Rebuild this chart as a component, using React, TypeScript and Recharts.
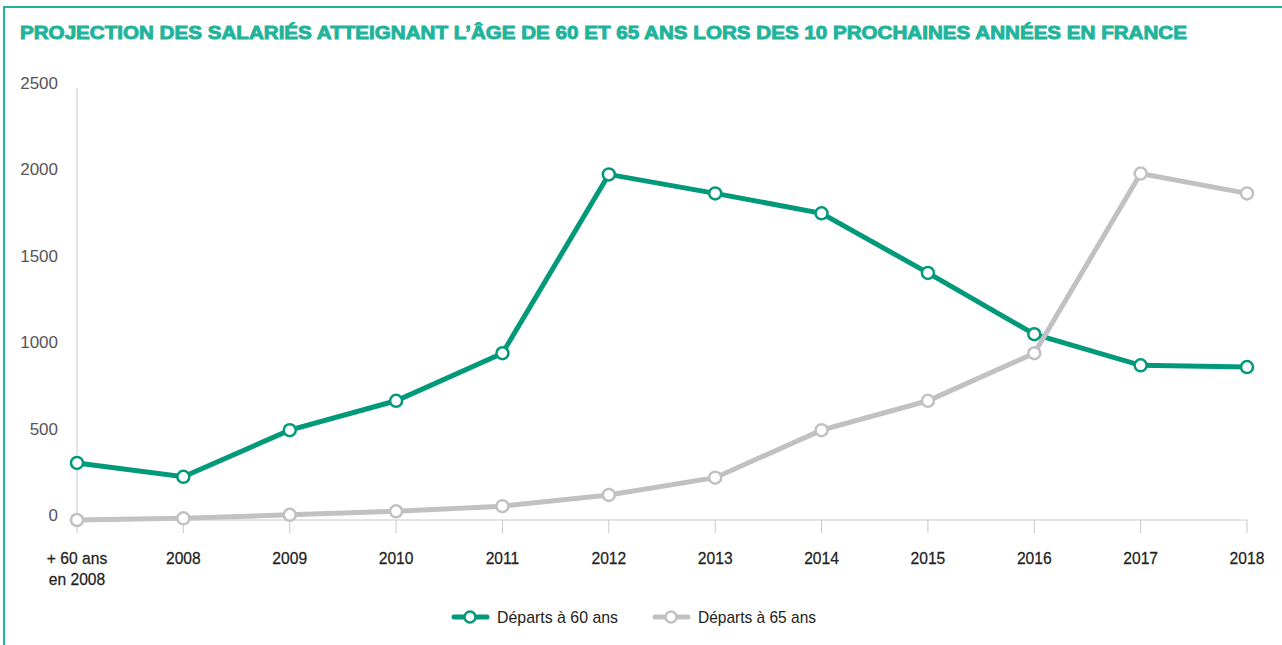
import React from "react";
import { LineChart, Line, XAxis, YAxis } from "recharts";

const categories = ["+ 60 ans|en 2008", "2008", "2009", "2010", "2011", "2012", "2013", "2014", "2015", "2016", "2017", "2018"];
const departs60 = [330, 250, 520, 690, 965, 2000, 1890, 1775, 1430, 1075, 895, 885];
const departs65 = [0, 10, 30, 50, 80, 145, 245, 520, 690, 965, 2005, 1890];
const yTicks = [0, 500, 1000, 1500, 2000, 2500];
const seriesNames = ["Départs à 60 ans", "Départs à 65 ans"];

const GREEN = "#00997a";
const GREY = "#c1c1c4";
const TITLE = "#22b39b";
const FONT = '"Liberation Sans", Arial, sans-serif';

const data = categories.map((label, i) => ({ label, d60: departs60[i], d65: departs65[i] }));

function XTick(props: any) {
  const { x, y, payload } = props;
  const lines = String(payload.value).split("|");
  return (
    <g transform={`translate(${x},${y}) scale(0.92,1)`}>
      {lines.map((l: string, i: number) => (
        <text key={i} x={0} y={29 + i * 21} textAnchor="middle" fill="#222" fontSize={17} fontFamily={FONT} stroke="#222" strokeWidth={0.25}>
          {l}
        </text>
      ))}
    </g>
  );
}

function YTick(props: any) {
  const { x, y, payload } = props;
  return (
    <text x={x} y={y + 1} textAnchor="end" fill="#555" fontSize={17} fontFamily={FONT}>
      {payload.value}
    </text>
  );
}

function LegendItem({ x, color, label, w }: { x: number; color: string; label: string; w: number }) {
  return (
    <g>
      <line x1={x + 1} y1={617} x2={x + 34} y2={617} stroke={color} strokeWidth={5} strokeLinecap="round" />
      <circle cx={x + 17} cy={617} r={5.5} fill="#fff" stroke={color} strokeWidth={2.5} />
      <text x={x + 44} y={623} fill="#222" fontSize={17} fontFamily={FONT} textLength={w} lengthAdjust="spacingAndGlyphs">
        {label}
      </text>
    </g>
  );
}

export default function App() {
  const dot = (color: string) => ({ r: 6, fill: "#fff", stroke: color, strokeWidth: 2.5 });
  return (
    <div style={{ position: "absolute", left: 0, top: 0, width: 1282, height: 645, background: "#fff", overflow: "hidden" }}>
      <div style={{ position: "absolute", left: 3, top: 6, width: 1300, height: 700, border: `2px solid ${TITLE}` }} />
      <svg width={1282} height={60} style={{ position: "absolute", left: 0, top: 0 }}>
        <text x={20} y={39} fill={TITLE} stroke={TITLE} strokeWidth={0.9} fontSize={18} fontWeight="bold" fontFamily={FONT} textLength={1167} lengthAdjust="spacingAndGlyphs">
          PROJECTION DES SALARIÉS ATTEIGNANT L’ÂGE DE 60 ET 65 ANS LORS DES 10 PROCHAINES ANNÉES EN FRANCE
        </text>
      </svg>
      <div style={{ position: "absolute", left: 0, top: 0 }}>
        <LineChart width={1282} height={600} data={data} margin={{ top: 88, right: 35, bottom: 40, left: 17 }}>
          <XAxis
            dataKey="label"
            interval={0}
            axisLine={{ stroke: "#c8c8c8" }}
            tickLine={{ stroke: "#c8c8c8" }}
            tickSize={13}
            height={40}
            tick={<XTick />}
          />
          <YAxis
            domain={[0, 2500]}
            ticks={yTicks}
            width={60}
            axisLine={{ stroke: "#c8c8c8" }}
            tickLine={false}
            tickSize={0}
            tickMargin={19}
            tick={<YTick />}
          />
          <Line dataKey="d60" name={seriesNames[0]} stroke={GREEN} strokeWidth={5} dot={dot(GREEN)} activeDot={false} isAnimationActive={false} />
          <Line dataKey="d65" name={seriesNames[1]} stroke={GREY} strokeWidth={5} dot={dot(GREY)} activeDot={false} isAnimationActive={false} />
        </LineChart>
      </div>
      <svg width={1282} height={645} style={{ position: "absolute", left: 0, top: 0, pointerEvents: "none" }}>
        <LegendItem x={453} color={GREEN} label={seriesNames[0]} w={121} />
        <LegendItem x={654} color={GREY} label={seriesNames[1]} w={118} />
      </svg>
    </div>
  );
}
